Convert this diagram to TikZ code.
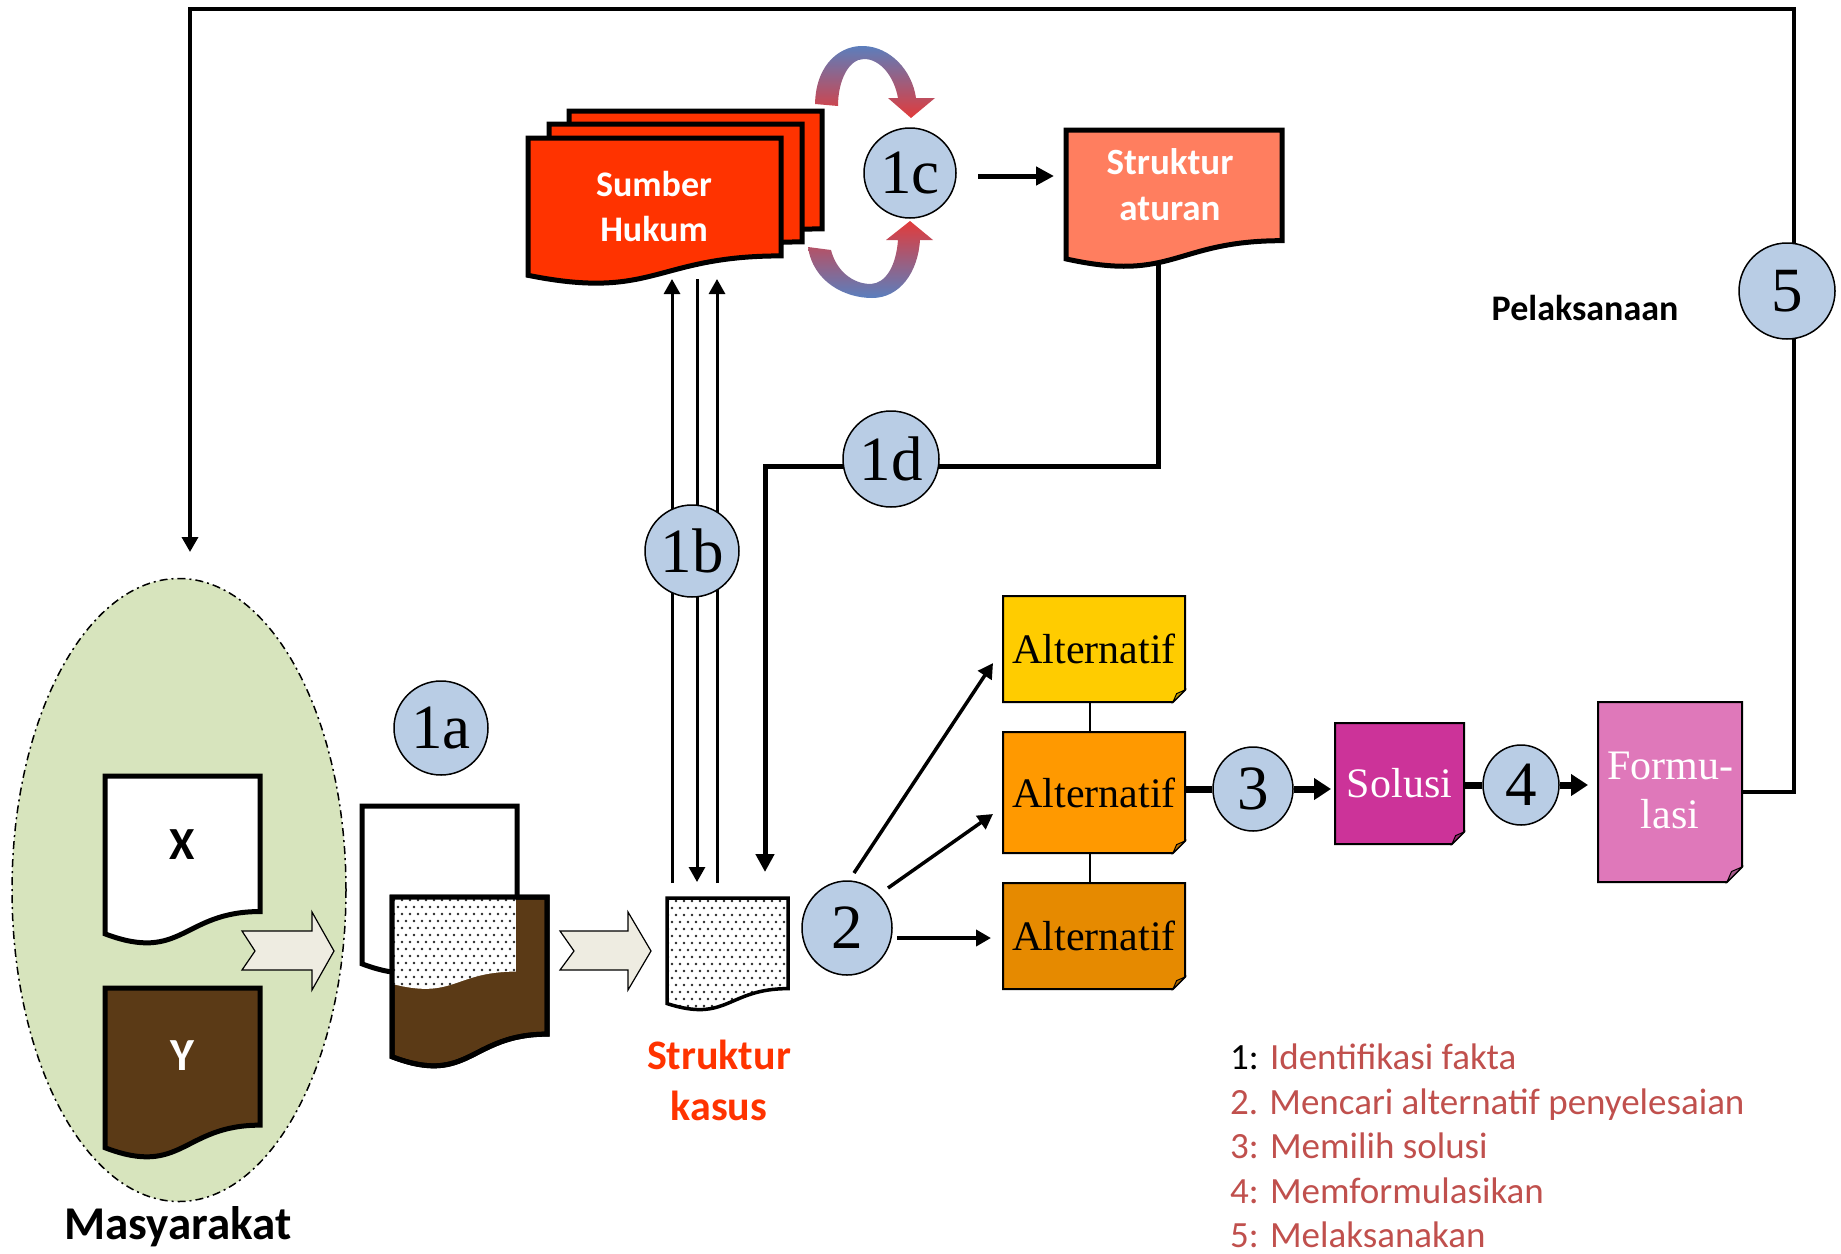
\documentclass[tikz,border=0pt]{standalone}
\usepackage{fontspec}
\setmainfont{Liberation Serif}
\newfontfamily\calfont{Carlito}
\usetikzlibrary{arrows.meta,shapes.geometric}
\definecolor{circ}{HTML}{B9CDE5}
\definecolor{masyfill}{HTML}{D7E4BD}
\definecolor{brownY}{HTML}{5B3A16}
\definecolor{sumberc}{HTML}{FF3300}
\definecolor{aturanc}{HTML}{FF7E5F}
\definecolor{altA}{HTML}{FFCC00}
\definecolor{altB}{HTML}{FF9900}
\definecolor{altC}{HTML}{E68A00}
\definecolor{solusic}{HTML}{CC3399}
\definecolor{formuc}{HTML}{DF78BA}
\definecolor{blockc}{HTML}{EEECE1}
\definecolor{legred}{HTML}{C0504D}
\definecolor{kasusred}{HTML}{FF3300}
\definecolor{curvred}{HTML}{E23B3B}
\definecolor{curvblue}{HTML}{5A7FBE}

\newcommand{\docshape}[5]{\path[#1] (#2,#3) -- (#2+#4,#3) -- (#2+#4,#3+0.802*#5) .. controls (#2+0.5*#4,#3+0.802*#5) and (#2+0.5*#4,#3+1.1075*#5) .. (#2,#3+0.934*#5) -- cycle;}
\newcommand{\docclip}[4]{\clip (#1,#2) -- (#1+#3,#2) -- (#1+#3,#2+0.802*#4) .. controls (#1+0.5*#3,#2+0.802*#4) and (#1+0.5*#3,#2+1.1075*#4) .. (#1,#2+0.934*#4) -- cycle;}
\newcommand{\dotgrid}[4]{\foreach \j in {0,...,#4}{\foreach \i in {0,...,#3}{\fill[black!85] ({#1+\i*8+mod(\j,2)*4},{#2+\j*7}) circle[radius=1.4];}}}
\newcommand{\foldbox}[6]{%
  \path[fill=#5, draw=black, line width=2pt] (#1,#2) -- (#3,#2) -- (#3,#4-#6) -- (#3-#6,#4) -- (#1,#4) -- cycle;
  \path[fill=#5!75!black, draw=black, line width=1pt] (#3,#4-#6) -- (#3-#6,#4) -- (#3-0.7*#6,#4-0.7*#6) -- cycle;}

\begin{document}
\begin{tikzpicture}[x=1pt,y=-1pt, line join=miter,
  num/.style={ellipse, draw, line width=1.5pt, fill=circ, inner sep=0pt, font=\fontsize{63}{63}\selectfont},
  boxtxt/.style={inner sep=0pt, align=center},
  serifbig/.style={font=\fontsize{42}{49}\selectfont},
  conn/.style={line width=3pt},
  tipS/.style={-{Triangle[length=15pt,width=16pt]}},
  tipM/.style={-{Triangle[length=18pt,width=18pt]}},
  tipL/.style={-{Triangle[length=17pt,width=21pt]}},
  legend/.style={anchor=base west, inner sep=0pt, text=legred, font=\calfont\fontsize{37}{37}\selectfont}]
\useasboundingbox (0,0) rectangle (1841,1253);

% Masyarakat ellipse
\node[ellipse, draw, fill=masyfill, line width=1.5pt, dash pattern=on 8pt off 4pt on 2pt off 4pt,
      minimum width=334pt, minimum height=623pt, inner sep=0pt] (masy) at (179,890) {};

% named connector end points
\coordinate (fbA) at (1794,792);
\coordinate (fbB) at (1794,9);
\coordinate (fbC) at (190,9);
\coordinate (fbD) at (190,552);
\coordinate (b1a) at (672,883); \coordinate (b1b) at (672,279);
\coordinate (b2a) at (697,279); \coordinate (b2b) at (697,882);
\coordinate (b3a) at (717,883); \coordinate (b3b) at (717,279);
\coordinate (d1) at (1158,258); \coordinate (d2) at (1158,466);
\coordinate (d3) at (765,466); \coordinate (d4) at (765,872);
\coordinate (c1s) at (978,176); \coordinate (c1e) at (1054,176);
\coordinate (t1s) at (854,873); \coordinate (t1e) at (993,663);
\coordinate (t2s) at (888,888); \coordinate (t2e) at (993,814);
\coordinate (t3s) at (897,938); \coordinate (t3e) at (991,938);

% feedback loop
\draw[line width=3.5pt, tipS] (1742,792) -- (fbA) -- (fbB) -- (fbC) -- (fbD);

% 1b lines
\draw[conn, tipS] (b1a) -- (b1b);
\draw[conn, tipS] (b2a) -- (b2b);
\draw[conn, tipS] (b3a) -- (b3b);

% 1d path
\draw[line width=5pt, tipM] (d1) -- (d2) -- (d3) -- (d4);

% 1c -> Struktur aturan
\draw[line width=5pt, tipM] (c1s) -- (c1e);

% arrows from 2
\draw[line width=3.5pt, tipS] (t1s) -- (t1e);
\draw[line width=3.5pt, tipS] (t2s) -- (t2e);
\draw[line width=4.5pt, tipS] (t3s) -- (t3e);

% alternatif vertical connectors
\draw[line width=2.5pt] (1090,702) -- (1090,732);
\draw[line width=2.5pt] (1090,853) -- (1090,883);

% curved arrows around 1c
\shade[top color=curvblue, bottom color=curvred]
  (815,104) .. controls (816,62) and (842,45) .. (864,46)
  .. controls (890,47) and (912,70) .. (916,98) -- (935,98) -- (911,118) -- (888,98) -- (898,98)
  .. controls (894,76) and (880,59) .. (864,59)
  .. controls (849,59) and (838,80) .. (838,106) -- cycle;
\shade[top color=curvred, bottom color=curvblue]
  (808,247) .. controls (813,282) and (845,298) .. (872,298)
  .. controls (900,298) and (918,272) .. (920,240) -- (933,240) -- (910,221) -- (886,240) -- (898,240)
  .. controls (896,266) and (886,283) .. (871,284)
  .. controls (852,284) and (836,270) .. (831,250) -- cycle;

% X and Y documents
\docshape{fill=white, draw=black, line width=5pt}{105}{776}{155}{169}
\docshape{fill=brownY, draw=black, line width=5pt}{105}{988}{155}{171}

% 1a documents
\docshape{fill=white, draw=black, line width=5pt}{362}{806}{155}{169}
\docshape{fill=brownY, draw=black, line width=5pt}{392}{897}{155}{171}
\begin{scope}
  \docclip{392}{897}{124}{93}
  \fill[white] (392,897) rectangle (516,1000);
  \dotgrid{394}{900}{16}{14}
\end{scope}
\docshape{draw=black, line width=5pt}{392}{897}{155}{171}

% Struktur kasus document
\begin{scope}
  \docclip{667}{898}{121}{113}
  \fill[white] (667,898) rectangle (788,1015);
  \dotgrid{668}{901}{15}{16}
\end{scope}
\docshape{draw=black, line width=3.5pt}{667}{898}{121}{113}

% Sumber Hukum stack
\docshape{fill=sumberc, draw=black, line width=5pt}{569}{111}{253}{147}
\docshape{fill=sumberc, draw=black, line width=5pt}{549}{124}{253}{147}
\docshape{fill=sumberc, draw=black, line width=5pt}{528}{138}{253}{147}

% Struktur aturan document
\docshape{fill=aturanc, draw=black, line width=5pt}{1066}{130}{216}{138}

% block arrows
\path[fill=blockc, draw=black, line width=1.2pt] (242,931) -- (312,931) -- (312,912) -- (334,951) -- (312,990) -- (312,970) -- (242,970) -- (255,951) -- cycle;
\path[fill=blockc, draw=black, line width=1.2pt] (560,931) -- (628,931) -- (628,912) -- (651,951) -- (628,990) -- (628,970) -- (560,970) -- (574,951) -- cycle;

% boxes with folded corner
\foldbox{1003}{596}{1185}{702}{altA}{12}
\foldbox{1003}{732}{1185}{853}{altB}{12}
\foldbox{1003}{883}{1185}{989}{altC}{12}
\foldbox{1335}{723}{1464}{844}{solusic}{12}
\foldbox{1598}{702}{1742}{882}{formuc}{15}

\node[boxtxt, serifbig, minimum width=182pt, minimum height=106pt] (alt1) at (1094,649) {Alternatif};
\node[boxtxt, serifbig, minimum width=182pt, minimum height=121pt] (alt2) at (1094,792.5) {Alternatif};
\node[boxtxt, serifbig, minimum width=182pt, minimum height=106pt] (alt3) at (1094,936) {Alternatif};
\node[boxtxt, serifbig, text=white, minimum width=129pt, minimum height=121pt] (solusi) at (1399.5,783.5) {Solusi};
\node[boxtxt, serifbig, text=white, minimum width=144pt, minimum height=180pt] (formu) at (1670,790) {Formu-\\lasi};

% circles
\node[num, minimum width=94pt, minimum height=94pt] (n1a) at (441,728) {1a};
\node[num, minimum width=94pt, minimum height=92pt] (n1b) at (692,551) {1b};
\node[num, minimum width=92pt, minimum height=90pt] (n1c) at (910,173) {1c};
\node[num, minimum width=96pt, minimum height=96pt] (n1d) at (891,459) {1d};
\node[num, minimum width=90pt, minimum height=94pt] (n2) at (847,928) {2};
\node[num, minimum width=80pt, minimum height=84pt] (n3) at (1253,789) {3};
\node[num, minimum width=76pt, minimum height=80pt] (n4) at (1521,785) {4};
\node[num, minimum width=96pt, minimum height=96pt] (n5) at (1787,291) {5};

% step 3 and 4 connectors
\draw[line width=7pt] (alt2.east |- n3) -- (n3);
\draw[line width=7pt, tipL] (n3) -- (1331,789);
\draw[line width=7pt] (solusi.east |- n4) -- (n4);
\draw[line width=7pt, tipL] (n4) -- (1588,785);

% texts
\node[boxtxt, text=white, font=\calfont\bfseries\fontsize{36}{45}\selectfont] (sumberT) at (654,206) {Sumber\\Hukum};
\node[boxtxt, text=white, font=\calfont\bfseries\fontsize{37}{46}\selectfont] (aturanT) at (1170,185) {Struktur\\aturan};
\node[boxtxt, text=black, font=\calfont\bfseries\fontsize{46}{46}\selectfont] (xT) at (182,845) {X};
\node[boxtxt, text=white, font=\calfont\bfseries\fontsize{46}{46}\selectfont] (yT) at (182,1056) {Y};
\node[boxtxt, text=kasusred, font=\calfont\bfseries\fontsize{42}{51}\selectfont] (kasusT) at (719,1080) {Struktur\\kasus};
\node[boxtxt, text=black, font=\calfont\bfseries\fontsize{47}{47}\selectfont] (masyT) at (178,1227) {Masyarakat};
\node[boxtxt, text=black, font=\calfont\bfseries\fontsize{36}{36}\selectfont] (pelT) at (1585,308) {Pelaksanaan};

% legend
\node[legend] (leg1) at (1230,1069) {\textcolor{black}{1:} Identifikasi fakta};
\node[legend] (leg2) at (1230,1114) {2. Mencari alternatif penyelesaian};
\node[legend] (leg3) at (1230,1158) {3: Memilih solusi};
\node[legend] (leg4) at (1230,1203) {4: Memformulasikan};
\node[legend] (leg5) at (1230,1247) {5: Melaksanakan};
\end{tikzpicture}
\end{document}
